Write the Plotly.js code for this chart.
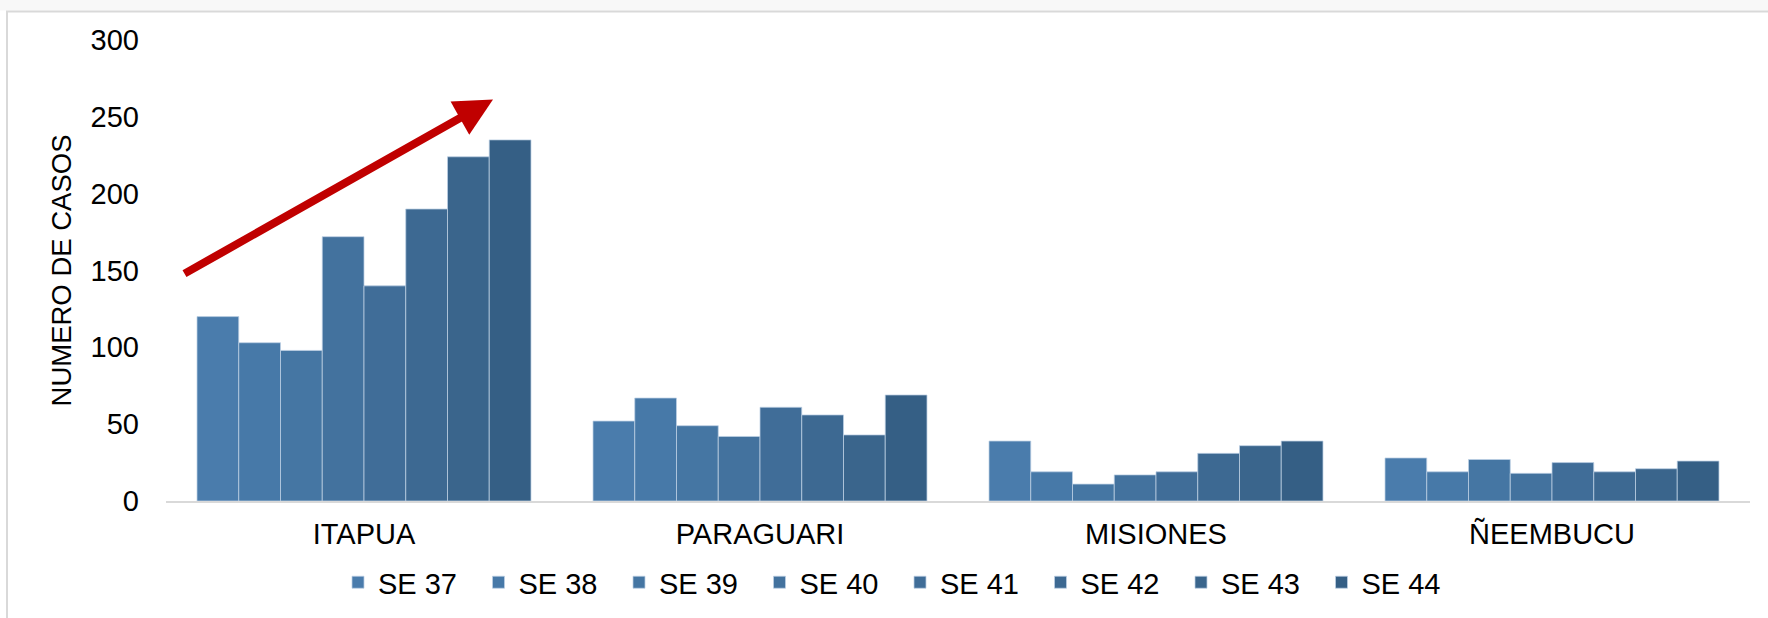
<!DOCTYPE html>
<html>
<head>
<meta charset="utf-8">
<script src="https://cdn.plot.ly/plotly-3.0.1.min.js"></script>
<style>
  html, body { margin: 0; padding: 0; background: #ffffff; }
  #chart { width: 1768px; height: 618px; }
</style>
</head>
<body>
<div id="chart"></div>
<script>
// Categories (departments)
const categories = ['ITAPUA', 'PARAGUARI', 'MISIONES', 'ÑEEMBUCU'];

// Series names (epidemiological weeks)
const seriesNames = ['SE 37', 'SE 38', 'SE 39', 'SE 40', 'SE 41', 'SE 42', 'SE 43', 'SE 44'];

// Values per series (one value per category)
const se37 = [120, 52, 39, 28];
const se38 = [103, 67, 19, 19];
const se39 = [98, 49, 11, 27];
const se40 = [172, 42, 17, 18];
const se41 = [140, 61, 19, 25];
const se42 = [190, 56, 31, 19];
const se43 = [224, 43, 36, 21];
const se44 = [235, 69, 39, 26];

// Y axis ticks
const yTicks = [0, 50, 100, 150, 200, 250, 300];

// Styles
const seriesValues = [se37, se38, se39, se40, se41, se42, se43, se44];
const seriesColors = ['#4a7cac', '#4779a8', '#4576a3', '#43729e', '#406d98', '#3d6992', '#3a658c', '#355f85'];

const FONT = 'Liberation Sans, Arial, sans-serif';

const traces = seriesNames.map((name, i) => ({
  type: 'bar',
  name: name,
  x: categories,
  y: seriesValues[i],
  marker: {
    color: seriesColors[i],
    line: { color: 'rgba(190,208,228,0.75)', width: 1 }
  },
  hoverinfo: 'x+y+name'
}));

const W = 1768, H = 618;
const mL = 166, mR = 18, mT = 39.5, mB = 117.4;
const pw = W - mL - mR, ph = H - mT - mB;
const px2x = p => (p - mL) / pw;
const py2y = p => (H - mB - p) / ph;

const layout = {
  width: W,
  height: H,
  margin: { l: mL, r: mR, t: mT, b: mB, pad: 0, autoexpand: false },
  paper_bgcolor: '#ffffff',
  plot_bgcolor: '#ffffff',
  barmode: 'group',
  bargap: 0.1566,
  bargroupgap: 0,
  font: { family: FONT, size: 29, color: '#000000' },
  showlegend: true,
  legend: {
    orientation: 'h',
    x: px2x(338),
    xanchor: 'left',
    y: py2y(582),
    yanchor: 'middle',
    entrywidth: 95.5,
    entrywidthmode: 'pixels',
    font: { family: FONT, size: 29, color: '#000000' },
    bgcolor: 'rgba(0,0,0,0)',
    traceorder: 'normal'
  },
  xaxis: {
    type: 'category',
    showline: true,
    linecolor: '#d9d9d9',
    linewidth: 2,
    showgrid: false,
    zeroline: false,
    ticks: '',
    ticklabelstandoff: 6,
    tickfont: { family: FONT, size: 29, color: '#000000' },
    automargin: false,
    fixedrange: true
  },
  yaxis: {
    range: [0, 300],
    tickvals: yTicks,
    ticktext: yTicks.map(String),
    showline: false,
    showgrid: false,
    zeroline: false,
    ticks: '',
    ticklabelstandoff: 26,
    tickfont: { family: FONT, size: 29, color: '#000000' },
    title: {
      text: 'NUMERO DE CASOS',
      font: { family: FONT, size: 27.5, color: '#000000' },
      standoff: 10
    },
    automargin: false,
    fixedrange: true
  },
  shapes: [
    {
      type: 'rect', xref: 'paper', yref: 'paper', layer: 'below',
      x0: px2x(-5), x1: px2x(1775), y0: py2y(10), y1: py2y(-5),
      fillcolor: '#f8f8f8', line: { width: 0 }
    },
    {
      type: 'rect', xref: 'paper', yref: 'paper', layer: 'below',
      x0: px2x(7), x1: px2x(1775), y0: py2y(625), y1: py2y(11),
      fillcolor: 'rgba(0,0,0,0)', line: { color: '#d9d9d9', width: 2 }
    }
  ],
  annotations: [
    {
      xref: 'paper', yref: 'paper',
      x: px2x(493), y: py2y(99),
      ax: 183 - 493, ay: 274 - 99,
      axref: 'pixel', ayref: 'pixel',
      text: '',
      showarrow: true,
      arrowhead: 2,
      arrowsize: 0.95,
      arrowwidth: 8,
      arrowcolor: '#C00000'
    }
  ]
};

Plotly.newPlot('chart', traces, layout, { displayModeBar: false, staticPlot: true });
</script>
</body>
</html>
